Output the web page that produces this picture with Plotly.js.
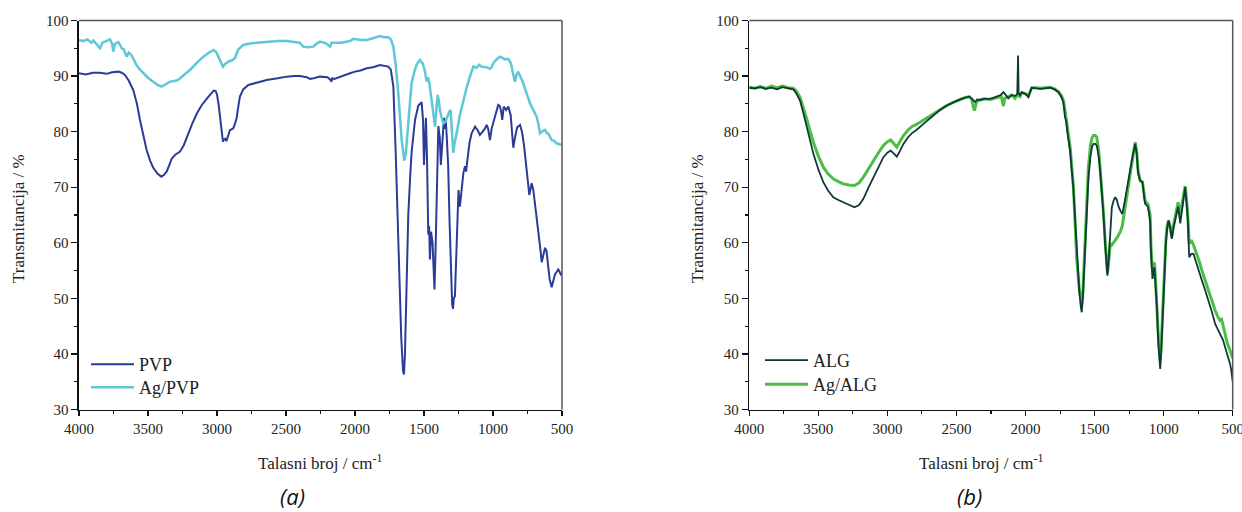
<!DOCTYPE html>
<html>
<head>
<meta charset="utf-8">
<script src="https://cdn.plot.ly/plotly-3.0.1.min.js"></script>
<style>html,body{margin:0;padding:0;background:#fff;}#chart{width:1242px;height:512px;}</style>
</head>
<body>
<div id="chart"></div>
<script>
// ---- Panel (a): PVP and Ag/PVP ----
const pvpX = [4000,3950,3900,3848,3800,3760,3715,3690,3667,3640,3607,3580,3558,3535,3510,3485,3462,3430,3404,3385,3365,3345,3329,3300,3268,3240,3217,3180,3145,3110,3072,3045,3024,3010,3000,2988,2976,2965,2957,2950,2941,2932,2924,2915,2906,2895,2882,2870,2858,2845,2834,2810,2773,2700,2640,2560,2495,2440,2399,2350,2326,2300,2254,2200,2180,2170,2165,2150,2100,2036,2000,1960,1915,1870,1819,1790,1759,1740,1722,1705,1691,1680,1665,1652,1645,1638,1628,1614,1600,1590,1565,1541,1517,1507,1500,1493,1486,1478,1469,1463,1457,1449,1438,1430,1424,1415,1405,1396,1386,1378,1370,1362,1355,1348,1342,1335,1325,1315,1305,1296,1290,1284,1276,1268,1260,1250,1240,1230,1215,1203,1195,1185,1170,1155,1130,1110,1095,1075,1060,1046,1035,1022,1010,986,962,950,940,933,922,905,889,872,860,853,840,825,804,790,775,756,745,737,728,720,708,695,680,666,655,647,638,623,612,600,590,575,562,551,538,527,518,510,500];
const pvpY = [90.5,90.3,90.6,90.6,90.4,90.7,90.8,90.6,90.2,89.2,87.5,85.0,82.1,79.2,76.7,74.8,73.5,72.4,71.9,72.2,72.8,74.0,75.1,75.9,76.4,77.6,79.1,81.4,83.3,84.8,86.0,86.9,87.4,87.3,86.7,84.8,82.1,79.8,78.2,78.6,78.7,78.3,78.9,79.8,80.3,80.4,80.6,81.4,82.4,84.6,86.3,87.6,88.4,88.9,89.3,89.6,89.9,90.0,90.0,89.8,89.5,89.6,89.9,89.8,89.4,89.0,89.6,89.5,90.0,90.5,90.8,91.0,91.4,91.6,92.0,91.9,91.7,91.1,88.1,76.2,64.0,55.0,43.0,37.0,36.3,40.0,52.0,65.0,72.0,76.2,82.1,84.7,85.3,82.0,74.0,80.0,82.5,75.0,61.5,63.0,57.0,62.0,60.0,55.0,51.6,60.0,72.0,81.0,79.0,74.0,77.0,81.5,82.5,80.5,82.0,79.0,74.0,64.0,54.0,49.0,48.1,50.0,50.4,57.0,64.2,69.5,66.5,69.0,72.5,73.8,72.8,75.0,78.0,79.7,80.9,80.2,79.4,80.0,80.5,81.2,80.5,78.5,80.5,82.7,84.8,84.6,83.5,82.1,84.5,83.9,84.5,83.0,80.0,77.1,79.0,80.8,81.2,80.0,77.5,73.7,70.5,68.6,70.0,70.7,69.5,67.0,64.0,61.0,58.5,56.5,57.5,59.1,58.5,55.5,53.5,52.0,53.5,54.3,54.8,55.2,54.8,54.3,54.5];

const agPvpX = [4000,3970,3940,3910,3896,3870,3848,3830,3800,3775,3760,3751,3740,3715,3700,3691,3675,3655,3640,3620,3600,3584,3560,3534,3500,3462,3430,3401,3370,3341,3310,3281,3240,3196,3150,3099,3060,3024,3005,2988,2970,2957,2940,2918,2895,2870,2848,2810,2750,2640,2560,2495,2440,2399,2385,2375,2340,2302,2280,2254,2210,2181,2170,2100,2036,2012,1960,1915,1870,1819,1790,1759,1740,1722,1705,1686,1662,1643,1632,1621,1605,1590,1570,1554,1540,1529,1520,1510,1500,1493,1481,1470,1460,1445,1432,1420,1410,1401,1392,1385,1372,1360,1345,1330,1318,1307,1298,1288,1278,1264,1240,1215,1190,1167,1143,1120,1100,1083,1050,1022,1010,998,975,949,930,913,890,870,855,841,830,817,800,781,755,732,710,684,672,660,645,623,610,598,575,555,539,520,502,500];
const agPvpY = [96.5,96.3,96.6,96.0,96.4,95.6,95.0,96.0,96.3,96.6,95.8,94.4,95.8,96.1,95.5,95.0,94.8,93.5,94.2,93.8,92.8,92.0,91.2,90.5,89.7,89.0,88.4,88.1,88.6,89.0,89.1,89.3,90.2,91.1,92.3,93.5,94.2,94.7,94.3,93.3,92.2,91.7,92.2,92.6,92.8,93.2,94.7,95.6,95.9,96.2,96.3,96.3,96.1,96.0,95.6,95.3,95.2,95.3,95.8,96.2,95.9,95.3,96.0,96.0,96.3,96.7,96.5,96.5,96.8,97.2,97.0,97.0,96.6,95.3,92.0,86.9,78.5,74.8,76.0,79.0,84.5,88.7,90.8,92.0,92.6,92.9,92.5,92.3,91.5,90.8,89.0,89.8,88.5,85.7,83.0,80.9,84.0,86.6,85.5,84.0,82.5,81.5,81.8,82.8,83.5,83.9,80.0,76.2,78.0,79.6,83.0,85.7,88.0,89.9,91.7,91.5,92.0,91.7,91.6,91.3,91.6,92.3,93.0,93.5,93.2,93.0,93.1,92.3,90.5,89.0,90.2,90.8,89.8,88.7,86.8,85.1,84.0,82.7,81.5,79.7,80.0,80.3,79.8,79.6,78.5,78.3,77.9,77.8,77.6,77.6];

// ---- Panel (b): ALG and Ag/ALG ----
const algX = [4000,3960,3920,3880,3840,3800,3760,3720,3681,3660,3633,3610,3584,3560,3536,3500,3464,3430,3392,3355,3319,3280,3239,3205,3174,3140,3102,3065,3029,3000,2976,2955,2932,2910,2884,2850,2824,2790,2764,2720,2667,2620,2570,2520,2474,2440,2407,2390,2378,2365,2350,2329,2300,2257,2220,2180,2160,2140,2124,2100,2076,2060,2054,2050,2040,2027,2000,1979,1966,1955,1920,1894,1860,1822,1790,1762,1740,1726,1714,1706,1695,1677,1653,1641,1629,1610,1600,1593,1585,1574,1556,1545,1530,1518,1508,1495,1484,1470,1460,1448,1436,1424,1415,1407,1398,1387,1375,1362,1351,1340,1325,1310,1299,1285,1267,1250,1235,1220,1206,1195,1185,1170,1153,1140,1134,1114,1098,1091,1081,1074,1067,1058,1049,1040,1030,1025,1018,1008,1001,984,975,965,955,941,930,912,895,880,870,860,850,844,835,825,815,800,784,760,740,723,700,675,650,627,610,591,570,555,540,519,510,502,500];
const algY = [87.9,87.8,88.0,87.7,87.9,87.6,88.0,87.8,87.6,86.9,85.6,83.5,80.8,78.3,76.0,73.2,70.9,69.4,68.2,67.7,67.3,66.9,66.4,66.8,67.9,69.8,71.8,73.7,75.4,76.2,76.6,76.1,75.5,76.5,77.8,79.0,79.7,80.3,80.8,81.8,82.9,83.9,84.7,85.3,85.8,86.1,86.3,86.0,85.6,85.3,85.8,85.7,85.9,85.9,86.2,86.6,87.1,86.5,86.0,86.6,86.4,86.8,93.7,87.0,86.6,87.1,86.8,86.2,87.3,87.9,87.8,87.7,87.8,87.9,87.6,87.1,86.2,85.3,82.6,82.0,79.5,76.5,69.5,64.0,57.5,51.0,48.5,47.5,50.0,56.8,65.8,71.5,75.5,77.3,77.8,77.8,77.5,75.5,73.0,69.5,65.2,60.0,56.0,54.1,57.0,62.5,66.4,67.6,68.2,67.8,66.4,65.6,65.2,67.0,70.0,72.0,74.2,76.0,77.8,76.0,72.5,71.2,70.9,68.0,67.0,66.5,64.0,58.0,53.5,54.5,55.6,52.0,48.4,42.5,38.5,37.3,40.0,46.5,50.8,59.8,62.5,64.0,63.0,60.7,62.5,64.6,66.5,63.5,65.5,67.5,69.3,70.0,67.5,64.0,57.4,58.0,58.0,56.0,54.2,53.2,51.5,49.6,47.5,45.4,44.6,43.6,42.5,41.2,40.0,38.2,37.0,35.2,35.0];

const agAlgX = [4000,3960,3920,3880,3840,3800,3760,3720,3681,3660,3633,3610,3584,3560,3536,3500,3464,3430,3392,3355,3319,3280,3239,3205,3174,3140,3102,3065,3029,3000,2976,2955,2932,2910,2884,2850,2824,2790,2764,2720,2667,2620,2570,2520,2474,2440,2407,2390,2378,2370,2360,2350,2329,2300,2257,2220,2175,2160,2150,2124,2100,2076,2060,2040,2027,2000,1979,1966,1955,1920,1894,1860,1822,1790,1762,1740,1726,1714,1695,1677,1653,1641,1629,1610,1600,1593,1585,1574,1556,1545,1530,1518,1508,1495,1484,1470,1460,1448,1436,1424,1415,1407,1398,1387,1375,1362,1351,1335,1322,1310,1299,1285,1267,1250,1235,1220,1206,1195,1185,1170,1153,1140,1134,1114,1098,1091,1081,1074,1067,1058,1049,1040,1030,1025,1018,1008,1001,984,975,965,955,941,930,912,895,880,870,860,850,844,835,825,815,800,784,760,740,723,700,675,650,627,610,591,580,570,555,540,519,510,502,500];
const agAlgY = [88.0,87.8,88.1,87.8,88.2,87.9,88.2,87.9,87.8,87.3,86.2,84.5,82.3,80.1,78.1,75.6,73.6,72.4,71.5,71.0,70.6,70.4,70.3,70.8,71.8,73.2,74.8,76.2,77.5,78.2,78.5,77.8,77.2,78.2,79.3,80.3,80.9,81.3,81.7,82.4,83.2,84.0,84.7,85.3,85.8,86.1,86.3,85.8,84.5,83.8,84.8,85.5,85.7,85.9,85.8,86.0,86.3,84.6,86.0,86.3,86.6,86.0,86.6,86.3,87.0,86.8,86.5,87.3,87.9,87.9,87.8,87.9,88.0,87.7,87.2,86.5,85.6,83.8,80.5,77.2,70.0,64.0,57.0,51.5,49.5,49.0,51.0,57.5,67.0,73.5,77.5,78.9,79.3,79.3,79.0,76.5,73.5,69.8,65.5,60.5,56.5,54.5,56.5,59.8,59.6,60.0,60.4,61.0,61.6,62.2,63.1,65.5,68.5,71.5,73.9,76.0,78.1,76.5,73.0,71.2,70.9,68.5,67.5,67.0,65.0,59.0,55.0,55.5,56.5,53.0,49.5,44.0,40.0,38.8,41.5,48.0,52.0,60.5,63.0,64.0,63.2,61.0,63.0,65.2,67.3,65.0,66.5,68.5,69.8,70.2,68.0,65.0,59.8,60.5,59.6,58.0,56.5,55.0,53.2,51.4,49.5,47.8,46.8,46.0,46.2,45.0,43.6,42.0,40.6,40.0,39.4,39.2];

const xTickVals = [4000,3500,3000,2500,2000,1500,1000,500];
const yTickVals = [30,40,50,60,70,80,90,100];

const serif = 'Liberation Serif';
const textColor = '#222';

const traces = [
  {x: pvpX, y: pvpY, name: 'PVP', type: 'scatter', mode: 'lines', xaxis: 'x', yaxis: 'y',
   line: {color: '#2b3b97', width: 2}, legend: 'legend'},
  {x: agPvpX, y: agPvpY, name: 'Ag/PVP', type: 'scatter', mode: 'lines', xaxis: 'x', yaxis: 'y',
   line: {color: '#5ec8d6', width: 2.5}, legend: 'legend3'},
  {x: agAlgX, y: agAlgY, name: 'Ag/ALG', type: 'scatter', mode: 'lines', xaxis: 'x2', yaxis: 'y2',
   line: {color: '#4cbd45', width: 3}, legend: 'legend4'},
  {x: algX, y: algY, name: 'ALG', type: 'scatter', mode: 'lines', xaxis: 'x2', yaxis: 'y2',
   line: {color: '#0d3a34', width: 1.8}, legend: 'legend2'}
];

function xAxis(domain, anchor) {
  return {domain: domain, anchor: anchor, range: [4000, 500], autorange: false,
    tickmode: 'array', tickvals: xTickVals, ticktext: xTickVals.map(String),
    ticks: 'outside', ticklen: 5, tickwidth: 1.2, tickcolor: '#111',
    minor: {dtick: 250, ticks: 'outside', ticklen: 3, tickwidth: 1.1, tickcolor: '#111', showgrid: false},
    showline: true, linecolor: '#111', linewidth: 1.6, showgrid: false, zeroline: false,
    ticklabeloverflow: 'allow',
    tickfont: {family: serif, size: 15, color: textColor}, automargin: false};
}
function yAxis(domain, anchor) {
  return {domain: domain, anchor: anchor, range: [30, 100], autorange: false,
    tickmode: 'array', tickvals: yTickVals, ticktext: yTickVals.map(String),
    ticks: 'outside', ticklen: 6, tickwidth: 1.2, tickcolor: '#111',
    minor: {dtick: 5, ticks: 'outside', ticklen: 3, tickwidth: 1.1, tickcolor: '#111', showgrid: false},
    showline: true, linecolor: '#111', linewidth: 1.6, showgrid: false, zeroline: false,
    ticklabeloverflow: 'allow',
    tickfont: {family: serif, size: 15, color: textColor}, automargin: false};
}

function legendAt(px, pyTop) {
  return {x: px / W, y: 1 - pyTop / H, xanchor: 'left', yanchor: 'top', bgcolor: 'rgba(0,0,0,0)',
    font: {family: serif, size: 18, color: textColor}, itemwidth: 43};
}

const W = 1242, H = 512;
const yDom = [1 - 409.5 / H, 1 - 20.5 / H];
const layout = {
  width: W, height: H,
  margin: {l: 0, r: 0, t: 0, b: 0},
  font: {family: serif, size: 15, color: textColor},
  paper_bgcolor: '#fff', plot_bgcolor: '#fff',
  showlegend: true,
  xaxis: xAxis([79 / W, 562 / W], 'y'),
  yaxis: yAxis(yDom, 'x'),
  xaxis2: xAxis([749.3 / W, 1232.7 / W], 'y2'),
  yaxis2: yAxis(yDom, 'x2'),
  legend: legendAt(86, 346),
  legend3: legendAt(86, 369),
  legend2: legendAt(760, 342),
  legend4: legendAt(760, 366),
  shapes: [
    {type: 'line', xref: 'x domain', yref: 'y domain', x0: 0, x1: 1, y0: 1, y1: 1, line: {color: '#555', width: 1.5}},
    {type: 'line', xref: 'x domain', yref: 'y domain', x0: 1, x1: 1, y0: 0, y1: 1, line: {color: '#555', width: 1.5}},
    {type: 'line', xref: 'x2 domain', yref: 'y2 domain', x0: 0, x1: 1, y0: 1, y1: 1, line: {color: '#555', width: 1.5}},
    {type: 'line', xref: 'x2 domain', yref: 'y2 domain', x0: 1, x1: 1, y0: 0, y1: 1, line: {color: '#555', width: 1.5}}
  ],
  annotations: [
    {text: 'Talasni broj / cm<sup>-1</sup>', xref: 'paper', yref: 'paper', x: 320 / W, y: 1 - 462 / H,
     xanchor: 'center', yanchor: 'middle', showarrow: false, font: {family: serif, size: 17, color: textColor}},
    {text: 'Transmitancija / %', xref: 'paper', yref: 'paper', x: 18 / W, y: 1 - 219 / H, textangle: -90,
     xanchor: 'center', yanchor: 'middle', showarrow: false, font: {family: serif, size: 17, color: textColor}},
    {text: 'Talasni broj / cm<sup>-1</sup>', xref: 'paper', yref: 'paper', x: 981 / W, y: 1 - 462 / H,
     xanchor: 'center', yanchor: 'middle', showarrow: false, font: {family: serif, size: 17, color: textColor}},
    {text: 'Transmitancija / %', xref: 'paper', yref: 'paper', x: 697 / W, y: 1 - 219 / H, textangle: -90,
     xanchor: 'center', yanchor: 'middle', showarrow: false, font: {family: serif, size: 17, color: textColor}},
    {text: '<i>(a)</i>', xref: 'paper', yref: 'paper', x: 292 / W, y: 1 - 496 / H,
     xanchor: 'center', yanchor: 'middle', showarrow: false, font: {family: 'Open Sans', size: 22, color: '#111'}},
    {text: '<i>(b)</i>', xref: 'paper', yref: 'paper', x: 969 / W, y: 1 - 496 / H,
     xanchor: 'center', yanchor: 'middle', showarrow: false, font: {family: 'Open Sans', size: 22, color: '#111'}}
  ]
};

Plotly.newPlot('chart', traces, layout, {staticPlot: true, displayModeBar: false});
</script>
</body>
</html>
